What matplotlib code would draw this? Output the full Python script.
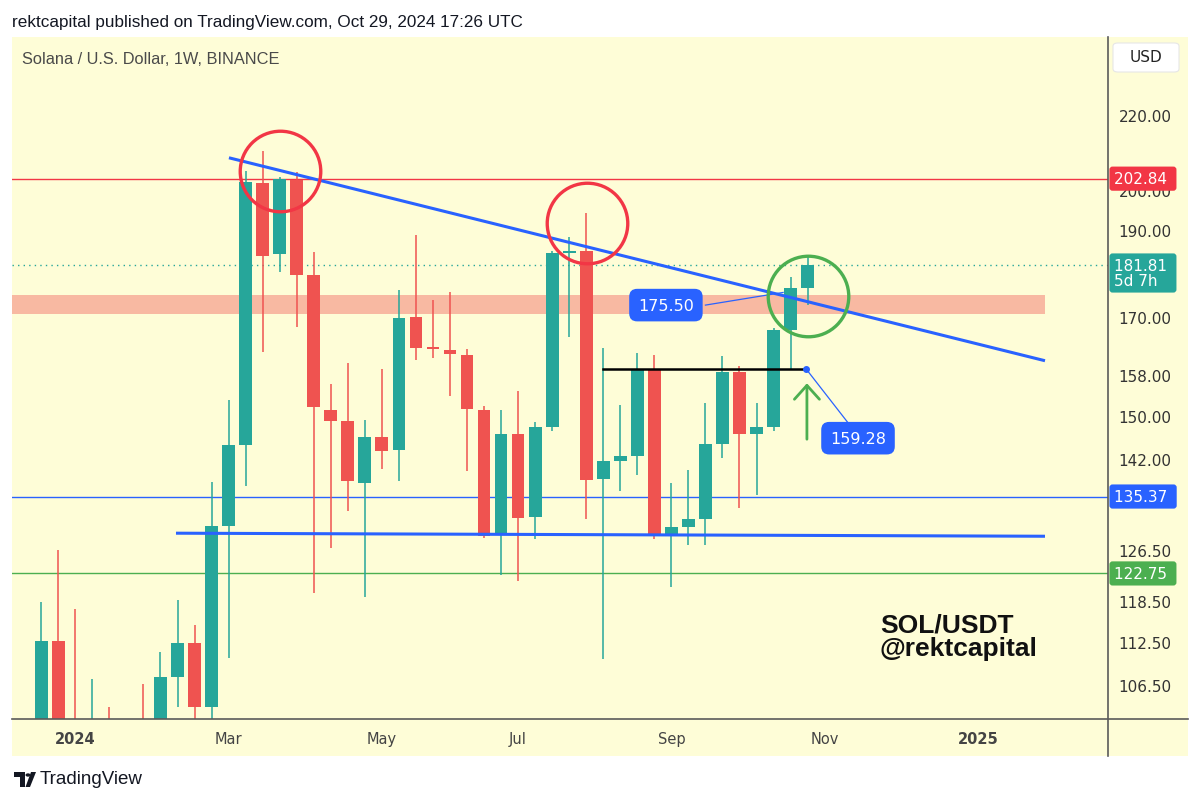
import numpy as np
import matplotlib.pyplot as plt
import matplotlib.transforms as mtransforms
from matplotlib.patches import Rectangle, Polygon, Circle, FancyBboxPatch
from matplotlib.ticker import NullLocator, NullFormatter

# SOL/USD weekly candles (Binance), weeks from 2023-12-18 to 2024-10-28
opens = [76.0, 112.6, 101.4, 95.0, 99.0, 94.0, 96.0, 95.0, 107.6, 112.3,
         103.6, 130.4, 144.6, 201.8, 184.2, 202.4, 179.5, 151.2, 149.0, 137.8,
         146.0, 143.6, 170.1, 163.7, 163.2, 162.1, 151.2, 128.9, 146.6, 131.9,
         147.8, 184.6, 184.9, 138.4, 141.7, 142.6, 159.2, 128.8, 130.3, 131.5,
         144.7, 158.7, 146.6, 147.8, 167.4, 176.4]
highs = [118.3, 126.5, 117.3, 107.3, 103.6, 100.0, 106.6, 111.1, 118.7, 115.0,
         137.9, 153.1, 204.7, 210.1, 203.2, 204.5, 184.7, 156.2, 160.4, 149.3,
         159.2, 176.1, 188.8, 173.8, 175.6, 163.3, 151.8, 151.2, 154.9, 148.8,
         185.1, 188.4, 194.2, 163.5, 152.1, 162.5, 162.1, 137.7, 140.1, 152.5,
         161.8, 159.9, 152.5, 167.7, 179.1, 183.5]
lows = [72.0, 97.0, 92.0, 88.0, 92.0, 80.0, 93.0, 93.0, 103.6, 99.0,
        101.0, 110.2, 137.2, 162.8, 180.1, 168.0, 119.8, 126.8, 132.9, 119.1,
        140.2, 138.1, 161.1, 161.5, 153.8, 139.9, 128.4, 122.5, 121.5, 128.2,
        147.2, 165.8, 131.5, 110.1, 136.4, 139.1, 128.2, 120.6, 127.2, 127.3,
        142.1, 133.4, 135.6, 147.2, 159.3, 172.7]
closes = [112.7, 101.4, 95.0, 99.0, 94.0, 96.0, 95.0, 107.6, 112.3, 103.6,
          130.4, 144.6, 201.9, 183.9, 202.8, 179.5, 151.7, 149.0, 138.1, 146.0,
          143.5, 169.9, 163.5, 163.4, 162.2, 151.3, 128.8, 146.6, 131.8, 147.8,
          184.5, 185.0, 138.3, 141.7, 142.5, 159.2, 128.7, 130.2, 131.5, 144.7,
          158.7, 146.6, 147.8, 167.3, 176.4, 181.81]

# x axis labels (bar index of first weekly bar of the month)
month_pos = [2, 11, 20, 28, 37, 46, 55]
month_lbl = ['2024', 'Mar', 'May', 'Jul', 'Sep', 'Nov', '2025']

price_ticks = [106.5, 112.5, 118.5, 126.5, 142, 150, 158, 170, 190, 200, 220]

# drawn levels and tools
res_level = 202.84
sup_level = 135.37
low_level = 122.75
last_price = 181.81
zone = (170.8, 175.0)
trend_x, trend_y = [11.02, 58.94], [208.3, 160.9]
base_x, base_y = [7.91, 58.94], [129.2, 128.7]
neck_x, neck_y = [32.98, 44.9], 159.28

UP, DOWN = '#26a69a', '#ef5350'
BLUE = '#2962ff'
RED = '#f23645'
GREEN = '#4caf50'
PANEL = '#fefdd7'

W, H = 1200, 804
fig = plt.figure(figsize=(12, 8.04), dpi=100)
fig.patch.set_facecolor('white')


def fx(px):
    return px / W


def fy(py):
    return 1 - py / H


fig.add_artist(Rectangle((fx(12), fy(757)), 1176 / W, 719 / H, transform=fig.transFigure,
                         facecolor=PANEL, edgecolor='none', zorder=0))

ax = fig.add_axes([fx(12), fy(720), (1108 - 12) / W, (720 - 38) / H])
ax.set_facecolor(PANEL)
ax.set_yscale('log')
ax.set_ylim(102.0, 242.9)
ax.set_xlim(-1.72, 62.64)

# candles
x = np.arange(len(opens))
o, h, l, c = map(np.array, (opens, highs, lows, closes))
cols = np.where(c >= o, UP, DOWN)
ax.vlines(x, l, h, colors=cols, lw=1.1, zorder=3)
ax.bar(x, np.abs(c - o), bottom=np.minimum(o, c), width=0.75, color=cols, zorder=4)

# horizontal levels
ax.axhline(res_level, color=RED, lw=1.0, zorder=2)
ax.axhline(sup_level, color=BLUE, lw=1.0, zorder=2)
ax.axhline(low_level, color=GREEN, lw=1.0, zorder=2)
ax.axhline(last_price, color=UP, lw=1.0, ls=(0, (1, 3)), zorder=2)
ax.fill_between([-1.72, trend_x[1]], zone[0], zone[1], color='#f8b9a2', lw=0, zorder=1)

# trendlines
ax.plot(trend_x, trend_y, color=BLUE, lw=2.2, solid_capstyle='butt', zorder=6)
ax.plot(base_x, base_y, color=BLUE, lw=2.2, solid_capstyle='butt', zorder=6)
ax.plot(neck_x, [neck_y, neck_y], color='black', lw=1.8, zorder=6)
ax.plot([neck_x[1]], [neck_y], 'o', color=BLUE, ms=4, zorder=7)

# callouts
ax.plot([neck_x[1], 47.37], [neck_y, 148.7], color=BLUE, lw=0.9, zorder=6)
ax.plot([39.0, 43.56], [172.7, 175.5], color=BLUE, lw=0.9, zorder=6)
box = dict(boxstyle='round,pad=0.55,rounding_size=0.5', fc=BLUE, ec='none')
ax.text(36.68, 172.7, '175.50', color='white', fontsize=11.5, ha='center', va='center',
        bbox=box, zorder=8)
ax.text(47.96, 145.8, '159.28', color='white', fontsize=11.5, ha='center', va='center',
        bbox=box, zorder=8)

# circles
ax.plot([14.0, 32.03], [204.8, 191.7], 'o', ms=58, mfc='none', mec=RED, mew=2.4, zorder=7)
ax.plot([45.04], [174.8], 'o', ms=58, mfc='none', mec=GREEN, mew=2.4, zorder=7)

# arrow
ax.annotate('', xy=(44.96, 156.9), xytext=(44.96, 145.1),
            arrowprops=dict(arrowstyle='->,head_length=0.5,head_width=0.45',
                            color=GREEN, lw=2.0, mutation_scale=20), zorder=7)

# axes styling
for s in ['top', 'left', 'right', 'bottom']:
    ax.spines[s].set_visible(False)
ax.yaxis.tick_right()
ax.set_yticks(price_ticks, [f'{v:.2f}' for v in price_ticks])
ax.yaxis.set_minor_locator(NullLocator())
ax.yaxis.set_minor_formatter(NullFormatter())
ax.tick_params(axis='y', length=0, pad=7.5, labelsize=11, labelcolor='#333333')
ax.set_xticks(month_pos, month_lbl)
ax.tick_params(axis='x', length=0, pad=9, labelsize=10.5, labelcolor='#444444')
for t in ax.get_xticklabels():
    if t.get_text() in ('2024', '2025'):
        t.set_fontweight('bold')

# price tags on the scale
trans = mtransforms.blended_transform_factory(ax.transAxes, ax.transData)
tag = dict(boxstyle='round,pad=0.3,rounding_size=0.2', ec='none')
for val, txt, col in [(res_level, '202.84', RED), (sup_level, '135.37', BLUE),
                      (low_level, '122.75', GREEN)]:
    ax.text(1 + 6 / 1096, val, txt + ' ', transform=trans, ha='left', va='center', color='white',
            fontsize=11, bbox=dict(tag, fc=col), zorder=20, clip_on=False)
ax.text(1 + 6 / 1096, 179.9, '181.81 \n5d 7h', transform=trans, ha='left', va='center',
        color='white', fontsize=11, linespacing=1.0, bbox=dict(tag, fc=UP), zorder=20,
        clip_on=False)

# frame lines
fig.add_artist(plt.Line2D([fx(12), fx(1188)], [fy(720), fy(720)], transform=fig.transFigure,
                          color='#5a5a5a', lw=1.2))
fig.add_artist(plt.Line2D([fx(1108), fx(1108)], [fy(38), fy(757)], transform=fig.transFigure,
                          color='#5a5a5a', lw=1.2))

# USD box
fig.add_artist(FancyBboxPatch((fx(1113), fy(73)), 66 / W, 29 / H, transform=fig.transFigure,
                              boxstyle='round,pad=0,rounding_size=0.004', fc='white',
                              ec='#e6e6e6', lw=0.8))
fig.text(fx(1146), fy(58), 'USD', ha='center', va='center', fontsize=11, color='#222222')

# texts
fig.text(fx(12), fy(22), 'rektcapital published on TradingView.com, Oct 29, 2024 17:26 UTC',
         ha='left', va='center', fontsize=12.3, color='#131722', family='Liberation Sans')
fig.text(fx(22), fy(60), 'Solana / U.S. Dollar, 1W, BINANCE', ha='left', va='center',
         fontsize=11.8, color='#4a4a4a', family='Liberation Sans')
fig.text(fx(880), fy(637), 'SOL/USDT\n@rektcapital', ha='left', va='center', fontsize=19,
         fontweight='bold', color='#111111', linespacing=0.98, family='Liberation Sans')

# TradingView logo
fig.add_artist(Polygon([(fx(14), fy(773)), (fx(25), fy(773)), (fx(25), fy(788)), (fx(20), fy(788)),
                        (fx(20), fy(778)), (fx(14), fy(778))], closed=True,
                       transform=fig.transFigure, fc='#131722', ec='none'))
fig.add_artist(Circle((fx(28), fy(776)), 2.5 / W, transform=fig.transFigure, fc='#131722'))
fig.add_artist(Polygon([(fx(31), fy(773)), (fx(36), fy(773)), (fx(30), fy(788)), (fx(25.5), fy(788))],
                       closed=True, transform=fig.transFigure, fc='#131722', ec='none'))
fig.text(fx(40), fy(780), 'TradingView', ha='left', va='center', fontsize=13.5,
         color='#131722', family='Liberation Sans')

fig.savefig('out.png', dpi=100)
